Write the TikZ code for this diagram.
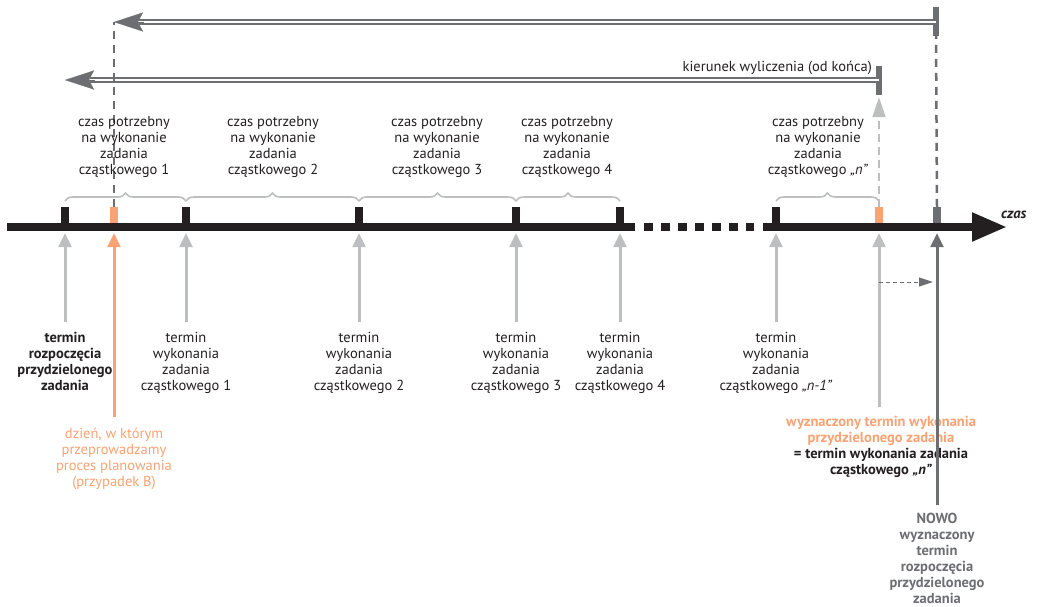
\documentclass[tikz,border=0pt]{standalone}
\usepackage{fontspec}
\setmainfont{PT Sans}
\usetikzlibrary{arrows.meta,decorations.pathreplacing}
\definecolor{ink}{HTML}{231F20}
\definecolor{lgray}{HTML}{BCBEC0}
\definecolor{dgray}{HTML}{6D6E71}
\definecolor{orng}{HTML}{F9A274}
\begin{document}
\begin{tikzpicture}[x=1pt,y=-1pt,
  lbl/.style={align=center, inner sep=0pt, anchor=north, text=ink, font=\fontsize{14.5}{16}\selectfont},
  tickbox/.style={fill=ink, minimum width=8pt, minimum height=16pt, inner sep=0pt},
  otick/.style={tickbox, fill=orng},
  gtick/.style={tickbox, fill=dgray},
  bar/.style={fill=dgray, minimum width=5.5pt, inner sep=0pt},
  up/.style={line width=3pt, lgray, -{Triangle[length=14pt,width=13pt]}},
  brc/.style={decorate, decoration={brace, amplitude=8pt}, lgray, line width=1.6pt},
  dbl/.style={dgray, line width=1.7pt, double=white, double distance=2.4pt},
  bighead/.style={dgray, line width=0.1pt, -{Stealth[length=29pt,width=19pt,inset=5pt]}},
  vdash/.style={dgray, line width=2.5pt, dash pattern=on 8pt off 6pt},
]
\useasboundingbox (0,0) rectangle (1039,606);

% axis
\draw[line width=8pt, ink] (7,227) -- (635,227);
\draw[line width=8pt, ink, dash pattern=on 8.5pt off 8.5pt] (644,227) -- (754,227);
\draw[line width=8pt, ink, -{Triangle[length=35pt,width=27pt]}] (763,227) -- (1007,227);
\node[anchor=base west, inner sep=0pt, text=ink, font=\fontsize{14.5}{16}\selectfont\bfseries\itshape] (czas) at (1001,218) {czas};

% ticks
\node[tickbox] (t1) at (65,215) {};
\node[otick] (to) at (114,215) {};
\node[tickbox] (t2) at (186,215) {};
\node[tickbox] (t3) at (359,215) {};
\node[tickbox] (t4) at (516,215) {};
\node[tickbox] (t5) at (620,215) {};
\node[tickbox] (t6) at (776,215) {};
\node[otick] (tn) at (879,215) {};
\node[gtick] (tg) at (937,215) {};

% top bars and arrows
\node[bar, minimum height=29pt] (barA) at (936,21.5) {};
\node[bar, minimum height=29pt] (barB) at (879,80.5) {};
\coordinate (tipA) at (114,22);
\coordinate (tipB) at (65,80);
\draw[dbl] (barA.center |- tipA) -- ([xshift=25pt]tipA);
\draw[bighead] ([xshift=30pt]tipA) -- (tipA);
\draw[dbl] (barB.center |- tipB) -- ([xshift=25pt]tipB);
\draw[bighead] ([xshift=30pt]tipB) -- (tipB);
\node[anchor=base east, inner sep=0pt, text=ink, font=\fontsize{14.5}{16}\selectfont] (kier) at (872,71) {kierunek wyliczenia (od końca)};

% vertical dashed lines
\draw[vdash] (to.north) -- (tipA);
\draw[vdash] (tg.north) -- (barA.south);
\draw[lgray, line width=2pt, dash pattern=on 8pt off 5pt, -{Triangle[length=20pt,width=13pt]}] (tn.north) -- ([yshift=-2pt]barB.south);

% braces
\draw[brc] (t1.north |- 0,201) -- (t2.north |- 0,201);
\draw[brc] (t2.north |- 0,201) -- (t3.north |- 0,201);
\draw[brc] (t3.north |- 0,201) -- (t4.north |- 0,201);
\draw[brc] (t4.north |- 0,201) -- (t5.north |- 0,201);
\draw[brc] (t6.north |- 0,201) -- (tn.north |- 0,201);

% brace labels
\node[lbl] (c1) at (124,116) {czas potrzebny\\na wykonanie\\zadania\\cząstkowego 1};
\node[lbl] (c2) at (273,116) {czas potrzebny\\na wykonanie\\zadania\\cząstkowego 2};
\node[lbl] (c3) at (437,116) {czas potrzebny\\na wykonanie\\zadania\\cząstkowego 3};
\node[lbl] (c4) at (567,116) {czas potrzebny\\na wykonanie\\zadania\\cząstkowego 4};
\node[lbl] (c5) at (818,116) {czas potrzebny\\na wykonanie\\zadania\\cząstkowego \textit{„n”}};

% bottom labels
\node[lbl, font=\fontsize{14.5}{16}\selectfont\bfseries] (L0) at (65,332) {termin\\rozpoczęcia\\przydzielonego\\zadania};
\node[lbl] (L1) at (186,332) {termin\\wykonania\\zadania\\cząstkowego 1};
\node[lbl] (L2) at (359,332) {termin\\wykonania\\zadania\\cząstkowego 2};
\node[lbl] (L3) at (516,332) {termin\\wykonania\\zadania\\cząstkowego 3};
\node[lbl] (L4) at (620,332) {termin\\wykonania\\zadania\\cząstkowego 4};
\node[lbl] (L5) at (776,332) {termin\\wykonania\\zadania\\cząstkowego \textit{„n-1”}};
\node[lbl, text=orng] (LO) at (114,428) {dzień, w którym\\przeprowadzamy\\proces planowania\\(przypadek B)};
\node[lbl, font=\fontsize{14.5}{16}\selectfont\bfseries] (LN) at (881,416) {\textcolor{orng}{wyznaczony termin wykonania}\\\textcolor{orng}{przydzielonego zadania}\\= termin wykonania zadania\\cząstkowego \textit{„n”}};
\node[lbl, text=dgray, font=\fontsize{14.5}{16}\selectfont\bfseries] (LG) at (937,513) {NOWO\\wyznaczony\\termin\\rozpoczęcia\\przydzielonego\\zadania};

% up arrows
\draw[up] (t1.south |- 0,322) -- ([yshift=-10pt]t1.south);
\draw[up] (t2.south |- 0,322) -- ([yshift=-10pt]t2.south);
\draw[up] (t3.south |- 0,322) -- ([yshift=-10pt]t3.south);
\draw[up] (t4.south |- 0,322) -- ([yshift=-10pt]t4.south);
\draw[up] (t5.south |- 0,322) -- ([yshift=-10pt]t5.south);
\draw[up] (t6.south |- 0,322) -- ([yshift=-10pt]t6.south);
\draw[up] (tn.south |- 0,407) -- ([yshift=-10pt]tn.south);
\draw[up, orng] (to.south |- 0,417) -- ([yshift=-10pt]to.south);
\draw[up, dgray] (tg.south |- 0,505) -- ([yshift=-10pt]tg.south);
\draw[dgray, line width=1pt, dash pattern=on 4pt off 3pt, -{Triangle[length=14pt,width=9pt]}] (tn.south |- 0,282) -- ([xshift=-4pt]tg.south |- 0,282);
\end{tikzpicture}
\end{document}
